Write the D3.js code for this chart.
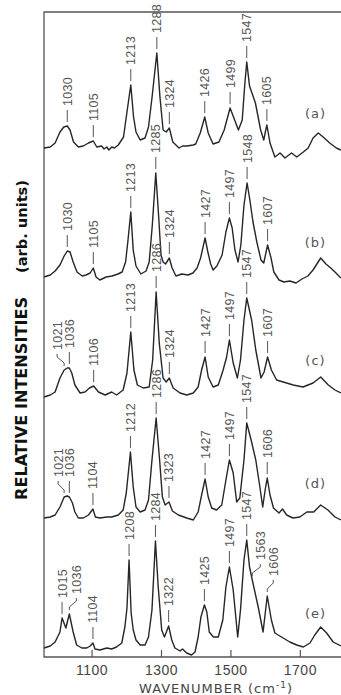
<!DOCTYPE html>
<html>
<head>
<meta charset="utf-8">
<script src="https://cdn.jsdelivr.net/npm/d3@7/dist/d3.min.js"></script>
<style>
  body { margin: 0; background: #fff; }
  svg { display: block; }
</style>
</head>
<body>
<div id="raman_chart"></div>
<script>
// spectra: [wavenumber (cm-1), intensity above own baseline]
const traceA = [[963,0],[981,1],[995,5],[1009,16],[1020,21],[1030,22],[1038,18],[1048,6],[1062,1],[1076,2],[1091,5],[1105,7],[1115,1],[1129,2],[1136,-1],[1144,1],[1150,-2],[1158,1],[1166,0],[1177,3],[1192,11],[1200,31],[1213,63],[1221,31],[1228,16],[1240,8],[1254,10],[1264,21],[1274,50],[1288,95],[1297,51],[1306,18],[1315,16],[1324,20],[1334,6],[1352,0],[1362,2],[1374,2],[1393,3],[1400,4],[1413,15],[1426,31],[1436,15],[1450,4],[1467,6],[1482,18],[1499,40],[1510,30],[1523,18],[1534,28],[1541,62],[1547,86],[1555,62],[1572,45],[1587,18],[1596,8],[1600,15],[1605,23],[1614,5],[1628,-9],[1643,-5],[1657,-10],[1676,-5],[1691,-9],[1710,-4],[1724,0],[1738,10],[1753,15],[1767,11],[1786,5],[1805,0],[1818,-2]];
const traceB = [[963,0],[981,2],[995,6],[1009,12],[1021,21],[1030,26],[1038,25],[1047,15],[1058,5],[1073,1],[1084,2],[1096,4],[1105,9],[1113,0],[1124,-3],[1142,0],[1159,1],[1176,3],[1188,5],[1198,15],[1205,37],[1213,65],[1220,27],[1228,11],[1242,3],[1257,6],[1266,15],[1275,52],[1285,104],[1293,62],[1300,22],[1306,15],[1313,13],[1324,19],[1332,9],[1343,1],[1360,3],[1378,2],[1392,4],[1404,9],[1414,19],[1427,39],[1435,25],[1443,13],[1450,7],[1461,11],[1476,22],[1487,45],[1497,59],[1505,49],[1513,27],[1522,15],[1530,32],[1539,72],[1548,94],[1556,77],[1565,55],[1576,35],[1588,17],[1596,14],[1607,32],[1617,19],[1625,5],[1640,-3],[1654,-5],[1671,-4],[1689,-6],[1706,-2],[1723,1],[1738,7],[1749,13],[1760,19],[1775,13],[1789,9],[1804,4],[1818,-1]];
const traceC = [[963,-2],[981,0],[995,3],[1009,17],[1021,25],[1030,27],[1036,27],[1043,22],[1052,10],[1067,2],[1081,3],[1094,7],[1106,9],[1120,3],[1139,0],[1158,3],[1172,0],[1191,5],[1202,22],[1213,63],[1222,25],[1232,10],[1249,7],[1266,8],[1276,35],[1286,103],[1295,52],[1306,17],[1315,13],[1324,17],[1335,7],[1355,2],[1374,0],[1393,2],[1407,8],[1417,25],[1427,38],[1436,18],[1450,8],[1465,10],[1479,25],[1489,38],[1497,55],[1508,32],[1520,17],[1529,35],[1539,75],[1547,97],[1561,75],[1573,45],[1588,17],[1597,23],[1607,38],[1618,25],[1633,15],[1652,13],[1681,10],[1709,8],[1738,12],[1760,18],[1782,10],[1801,5],[1818,2]];
const traceD = [[963,0],[981,1],[995,3],[1009,11],[1021,21],[1030,22],[1036,21],[1045,15],[1052,6],[1062,0],[1076,0],[1091,3],[1104,9],[1111,1],[1124,0],[1144,1],[1158,1],[1177,3],[1191,8],[1200,25],[1212,66],[1220,31],[1228,11],[1240,6],[1254,8],[1264,18],[1274,58],[1286,100],[1296,58],[1304,21],[1312,13],[1323,16],[1333,7],[1350,3],[1374,0],[1393,-2],[1407,6],[1417,23],[1427,39],[1436,21],[1446,10],[1460,8],[1475,13],[1487,38],[1497,58],[1508,45],[1518,16],[1527,20],[1539,58],[1547,95],[1561,76],[1573,58],[1584,33],[1593,11],[1600,28],[1606,40],[1614,23],[1624,10],[1640,5],[1650,9],[1662,3],[1680,0],[1700,1],[1720,6],[1740,6],[1760,13],[1781,8],[1801,1],[1818,-2]];
const traceE = [[963,0],[981,2],[995,6],[1009,16],[1015,30],[1026,20],[1036,34],[1047,16],[1057,3],[1072,0],[1086,0],[1096,2],[1104,5],[1110,-1],[1124,-2],[1144,0],[1158,-1],[1172,1],[1187,5],[1196,21],[1202,40],[1208,88],[1214,35],[1220,18],[1228,8],[1240,3],[1254,3],[1264,11],[1274,38],[1284,107],[1292,61],[1302,18],[1310,11],[1322,22],[1331,8],[1340,0],[1355,-3],[1362,-1],[1374,-5],[1388,-7],[1398,-4],[1407,11],[1415,31],[1425,43],[1432,36],[1439,16],[1451,11],[1465,11],[1478,28],[1487,61],[1497,81],[1508,58],[1521,11],[1529,38],[1539,88],[1547,108],[1555,81],[1563,68],[1580,41],[1594,16],[1606,52],[1618,28],[1628,15],[1647,11],[1671,6],[1691,3],[1710,1],[1729,5],[1743,13],[1760,21],[1777,15],[1796,6],[1818,2]];

// labelled peak positions
const peaksA = [1030, 1105, 1213, 1288, 1324, 1426, 1499, 1547, 1605];
const peaksB = [1030, 1105, 1213, 1285, 1324, 1427, 1497, 1548, 1607];
const peaksC = [1021, 1036, 1106, 1213, 1286, 1324, 1427, 1497, 1547, 1607];
const peaksD = [1021, 1036, 1104, 1212, 1286, 1323, 1427, 1497, 1547, 1606];
const peaksE = [1015, 1036, 1104, 1208, 1284, 1322, 1425, 1497, 1547, 1563, 1606];

const traceNames = ['(a)', '(b)', '(c)', '(d)', '(e)'];
const traceOffsets = [509, 380, 262, 139, 9];
const xTicks = [1100, 1300, 1500, 1700];

const traces = [traceA, traceB, traceC, traceD, traceE];
const peaks = [peaksA, peaksB, peaksC, peaksD, peaksE];

const width = 341, height = 695;
const ink = '#262626', grey = '#555';

const x = d3.scaleLinear().domain([963, 1830]).range([44, 345]);
const y = d3.scaleLinear().domain([0, 645]).range([657, 12]);

const svg = d3.select('#raman_chart')
  .append('svg')
  .attr('width', width)
  .attr('height', height);

// frame: top, left, bottom (runs off the right edge)
svg.append('path')
  .attr('d', `M${x(1830)},${y(645)}H${x(963)}V${y(0)}H${x(1830)}`)
  .attr('fill', 'none')
  .attr('stroke', grey)
  .attr('stroke-width', 1.3);

const xAxis = d3.axisBottom(x)
  .tickValues(xTicks)
  .tickSizeInner(-7)
  .tickSizeOuter(0)
  .tickPadding(8)
  .tickFormat(d3.format('d'));

const axisG = svg.append('g')
  .attr('transform', `translate(0,${y(0)})`)
  .call(xAxis);
axisG.select('.domain').remove();
axisG.selectAll('.tick line').attr('stroke', grey).attr('stroke-width', 1.2);
axisG.selectAll('.tick text')
  .attr('fill', '#444')
  .style('font-family', 'Liberation Sans, Arial, sans-serif')
  .style('font-size', '14px')
  .attr('letter-spacing', 0.5);

svg.append('text')
  .attr('x', 216)
  .attr('y', 693)
  .attr('text-anchor', 'middle')
  .attr('fill', '#444')
  .style('font-family', 'DejaVu Sans, sans-serif')
  .style('font-size', '13px')
  .attr('letter-spacing', 1)
  .text('WAVENUMBER (cm')
  .call(t => t.append('tspan').attr('dy', -5).style('font-size', '9px').text('-1'))
  .call(t => t.append('tspan').attr('dy', 5).text(')'));

// y title
svg.append('text')
  .attr('transform', 'translate(27,500) rotate(-90)')
  .attr('fill', '#111')
  .attr('textLength', 203)
  .attr('lengthAdjust', 'spacingAndGlyphs')
  .style('font-family', 'DejaVu Sans, sans-serif')
  .style('font-weight', 'bold')
  .style('font-size', '16px')
  .text('RELATIVE INTENSITIES');

svg.append('text')
  .attr('transform', 'translate(27,273) rotate(-90)')
  .attr('fill', '#111')
  .attr('textLength', 93)
  .attr('lengthAdjust', 'spacingAndGlyphs')
  .style('font-family', 'DejaVu Sans, sans-serif')
  .style('font-weight', 'bold')
  .style('font-size', '14px')
  .text('(arb. units)');

const lineGenerator = d3.line()
  .x(d => x(d[0]))
  .y(d => y(d[1]));

const bisect = d3.bisector(d => d[0]).left;
function valueAt(pts, w) {
  const i = bisect(pts, w);
  if (i <= 0) return pts[0][1];
  if (i >= pts.length) return pts[pts.length - 1][1];
  const a = pts[i - 1], b = pts[i];
  return a[1] + (b[1] - a[1]) * (w - a[0]) / (b[0] - a[0]);
}

// labels whose leader bends sideways (px)
const bend = { '2-1021': -7, '3-1021': -6, '4-1036': 7, '4-1563': 8, '4-1606': 6 };

traces.forEach((pts, i) => {
  const off = traceOffsets[i];

  svg.append('path')
    .datum(pts.map(d => [d[0], d[1] + off]))
    .attr('d', lineGenerator)
    .attr('fill', 'none')
    .attr('stroke', ink)
    .attr('stroke-width', 1.4)
    .attr('stroke-linejoin', 'round');

  peaks[i].forEach(w => {
    const xp = x(w);
    const yp = y(valueAt(pts, w) + off);
    const dx = bend[`${i}-${w}`] || 0;
    const xl = xp + dx;
    const y0 = yp - 4, y1 = y0 - 12;
    const d = dx ? `M${xp},${y0}V${y0 - 3}L${xl},${y0 - 9}V${y1}` : `M${xp},${y0}V${y1}`;
    svg.append('path')
      .attr('d', d)
      .attr('fill', 'none')
      .attr('stroke', grey)
      .attr('stroke-width', 1);
    svg.append('text')
      .attr('transform', `translate(${xl + 4.5},${y1 - 4}) rotate(-90)`)
      .attr('fill', grey)
      .style('font-family', 'Liberation Sans, Arial, sans-serif')
      .style('font-size', '12.5px')
      .attr('letter-spacing', 0.3)
      .text(w);
  });

  svg.append('text')
    .attr('x', x(1745))
    .attr('y', y(off + 35))
    .attr('dy', '0.35em')
    .attr('text-anchor', 'middle')
    .attr('fill', grey)
    .style('font-family', 'DejaVu Sans, sans-serif')
    .style('font-size', '13px')
    .attr('letter-spacing', 1)
    .text(traceNames[i]);
});
</script>
</body>
</html>
